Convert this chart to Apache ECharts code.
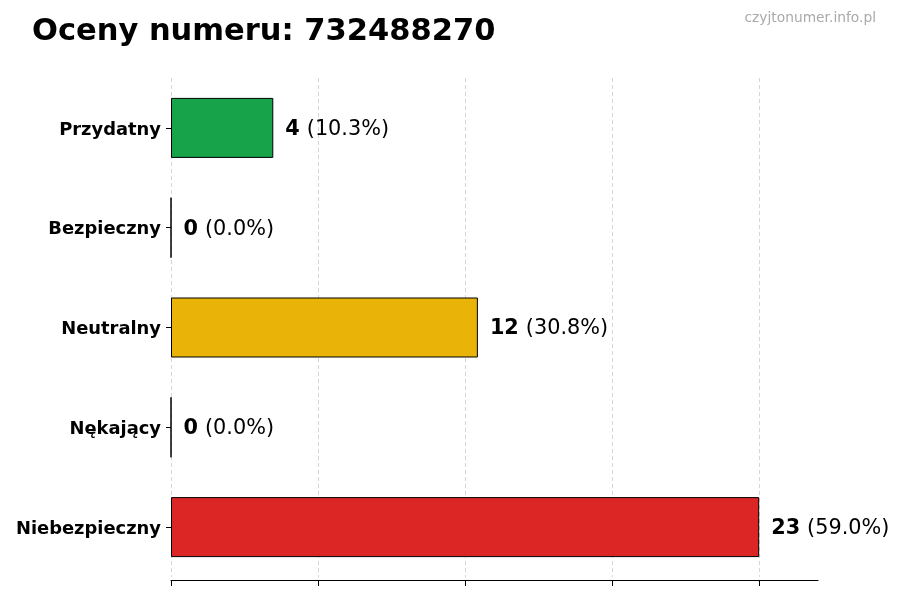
<!DOCTYPE html>
<html>
<head>
<meta charset="utf-8">
<script src="https://cdn.jsdelivr.net/npm/echarts@6/dist/echarts.min.js"></script>
<style>html,body{margin:0;padding:0;background:#fff;}#c{width:900px;height:600px;}</style>
</head>
<body>
<div id="c"></div>
<script>
const categories = ['Przydatny', 'Bezpieczny', 'Neutralny', 'Nękający', 'Niebezpieczny'];
const values = [4, 0, 12, 0, 23];
const percents = ['10.3%', '0.0%', '30.8%', '0.0%', '59.0%'];
const colors = ['#16a34a', '#16a34a', '#eab308', '#eab308', '#dc2626'];
const xTicks = [0, 5.75, 11.5, 17.25, 23];
const xMax = 25.3;

const FONT = 'DejaVu Sans';
const chart = echarts.init(document.getElementById('c'), null, {renderer: 'canvas'});
chart.setOption({
  animation: false,
  backgroundColor: '#fff',
  textStyle: {fontFamily: FONT},
  title: [
    {text: 'Oceny numeru: 732488270', left: 27, top: 12,
     textStyle: {fontFamily: FONT, fontSize: 30.5, fontWeight: 'bold', color: '#000'}},
    {text: 'czyjtonumer.info.pl', right: 19, top: 6,
     textStyle: {fontFamily: FONT, fontSize: 13.8, fontWeight: 'normal', color: '#aaaaaa'}}
  ],
  grid: {left: 171, right: 82, top: 78, bottom: 23, containLabel: false},
  xAxis: {
    type: 'value', min: 0, max: xMax, offset: 3,
    axisLine: {show: true, lineStyle: {color: '#000', width: 1.2}},
    axisTick: {show: true, customValues: xTicks, length: 6, lineStyle: {color: '#000', width: 1}},
    axisLabel: {show: false},
    splitLine: {show: false}
  },
  yAxis: {
    type: 'category', data: categories, inverse: true,
    axisLine: {show: false},
    axisTick: {show: true, alignWithLabel: true, length: 5, lineStyle: {color: '#000', width: 1}},
    axisLabel: {
      margin: 10,
      formatter: v => '{c|' + v + '}',
      rich: {c: {fontFamily: FONT, fontSize: 17.9, fontWeight: 'bold', color: '#000', padding: [4, 0, 0, 0]}}
    }
  },
  series: [{
    type: 'bar',
    barWidth: 60,
    data: values.map((v, i) => ({
      value: v,
      itemStyle: {color: colors[i], opacity: 1, borderColor: '#000', borderWidth: 1}
    })),
    label: {
      show: true, position: 'right', distance: 12, offset: [0, 1.5],
      formatter: p => '{b|' + values[p.dataIndex] + '}{n|(' + percents[p.dataIndex] + ')}',
      rich: {
        b: {fontFamily: FONT, fontSize: 20.8, fontWeight: 'bold', color: '#000', padding: [0, 7, 0, 0]},
        n: {fontFamily: FONT, fontSize: 20.8, fontWeight: 'normal', color: '#000'}
      }
    },
    markLine: {
      silent: true, symbol: 'none', z: 0,
      label: {show: false},
      lineStyle: {color: '#cccccc', type: [4, 3], width: 0.8},
      data: xTicks.map(t => ({xAxis: t}))
    },
    z: 2
  }]
});
</script>
</body>
</html>
